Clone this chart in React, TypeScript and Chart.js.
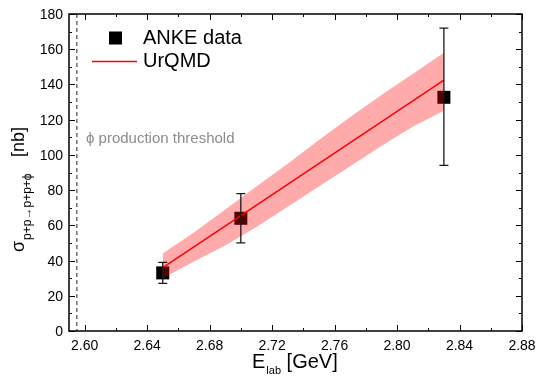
import React, { useEffect, useRef } from "react";
import { Chart, registerables } from "chart.js";

Chart.register(...registerables);

// ANKE data
const ankeX = [2.65, 2.70, 2.83];
const ankeY = [33, 64, 132.7];
const ankeErrLow = [27, 50, 94];
const ankeErrHigh = [39, 78, 172];

// UrQMD curve
const urqmdX = [2.65, 2.70, 2.83];
const urqmdY = [36, 65.5, 142.5];

// UrQMD uncertainty band
const bandX = [2.65, 2.67, 2.69, 2.71, 2.73, 2.75, 2.77, 2.79, 2.81, 2.83];
const bandUpper = [44, 56, 69, 82, 95, 108.5, 121.5, 134, 146, 158];
const bandLower = [30, 39.5, 48.5, 59, 70.5, 82, 93.5, 105, 116, 125];

const thresholdX = 2.595;

const xTickValues = [2.60, 2.64, 2.68, 2.72, 2.76, 2.80, 2.84, 2.88];
const xTickLabels = ["2.60", "2.64", "2.68", "2.72", "2.76", "2.80", "2.84", "2.88"];
const xMinorTicks = [2.62, 2.66, 2.70, 2.74, 2.78, 2.82, 2.86];
const yTickValues = [0, 20, 40, 60, 80, 100, 120, 140, 160, 180];
const yTickLabels = ["0", "20", "40", "60", "80", "100", "120", "140", "160", "180"];
const yMinorTicks = [10, 30, 50, 70, 90, 110, 130, 150, 170];

const FONT = '"Liberation Sans", Arial, sans-serif';

const decorPlugin = {
  id: "decor",
  beforeDatasetsDraw(chart: any) {
    const { ctx, chartArea: a, scales } = chart;
    const x = scales.x;
    ctx.save();
    const tx = x.getPixelForValue(thresholdX);
    ctx.strokeStyle = "#6e6e6e";
    ctx.lineWidth = 1.5;
    ctx.setLineDash([4, 3]);
    ctx.beginPath();
    ctx.moveTo(tx, a.top);
    ctx.lineTo(tx, a.bottom);
    ctx.stroke();
    ctx.setLineDash([]);
    ctx.fillStyle = "#8c8c8c";
    ctx.font = `15px ${FONT}`;
    ctx.textAlign = "left";
    ctx.textBaseline = "alphabetic";
    ctx.fillText("\u03D5 production threshold", 86, 143);
    ctx.restore();
  },
  afterDatasetsDraw(chart: any) {
    const { ctx, chartArea: a, scales } = chart;
    const x = scales.x;
    const y = scales.y;
    ctx.save();

    // error bars
    ctx.strokeStyle = "#1a1a1a";
    ctx.lineWidth = 1.3;
    for (let i = 0; i < ankeX.length; i++) {
      const px = x.getPixelForValue(ankeX[i]);
      const y1 = y.getPixelForValue(ankeErrLow[i]);
      const y2 = y.getPixelForValue(ankeErrHigh[i]);
      ctx.beginPath();
      ctx.moveTo(px, y1);
      ctx.lineTo(px, y2);
      ctx.moveTo(px - 4.5, y1);
      ctx.lineTo(px + 4.5, y1);
      ctx.moveTo(px - 4.5, y2);
      ctx.lineTo(px + 4.5, y2);
      ctx.stroke();
    }

    // frame
    ctx.strokeStyle = "#000";
    ctx.lineWidth = 1.5;
    ctx.strokeRect(a.left, a.top, a.right - a.left, a.bottom - a.top);

    // ticks
    ctx.lineWidth = 1;
    ctx.beginPath();
    const major = 6, minor = 3;
    xTickValues.forEach((v) => {
      const px = Math.round(x.getPixelForValue(v)) + 0.5;
      ctx.moveTo(px, a.bottom); ctx.lineTo(px, a.bottom - major);
      ctx.moveTo(px, a.top); ctx.lineTo(px, a.top + major);
    });
    xMinorTicks.forEach((v) => {
      const px = Math.round(x.getPixelForValue(v)) + 0.5;
      ctx.moveTo(px, a.bottom); ctx.lineTo(px, a.bottom - minor);
      ctx.moveTo(px, a.top); ctx.lineTo(px, a.top + minor);
    });
    yTickValues.forEach((v) => {
      const py = Math.round(y.getPixelForValue(v)) + 0.5;
      ctx.moveTo(a.left, py); ctx.lineTo(a.left + major, py);
      ctx.moveTo(a.right, py); ctx.lineTo(a.right - major, py);
    });
    yMinorTicks.forEach((v) => {
      const py = Math.round(y.getPixelForValue(v)) + 0.5;
      ctx.moveTo(a.left, py); ctx.lineTo(a.left + minor, py);
      ctx.moveTo(a.right, py); ctx.lineTo(a.right - minor, py);
    });
    ctx.stroke();

    // tick labels
    ctx.fillStyle = "#000";
    ctx.font = `14px ${FONT}`;
    ctx.textBaseline = "alphabetic";
    ctx.textAlign = "center";
    xTickValues.forEach((v, i) => {
      ctx.fillText(xTickLabels[i], x.getPixelForValue(v), a.bottom + 19);
    });
    ctx.textAlign = "right";
    yTickValues.forEach((v, i) => {
      ctx.fillText(yTickLabels[i], a.left - 6, y.getPixelForValue(v) + 5);
    });

    // x title
    ctx.textAlign = "left";
    ctx.font = `20px ${FONT}`;
    ctx.fillText("E", 252, 368);
    const eW = ctx.measureText("E").width;
    ctx.font = `11px ${FONT}`;
    ctx.fillText("lab", 252 + eW + 1, 374);
    const labW = ctx.measureText("lab").width;
    ctx.font = `20px ${FONT}`;
    ctx.fillText(" [GeV]", 252 + eW + 1 + labW, 368);

    // y title
    ctx.save();
    ctx.translate(24, 252);
    ctx.rotate(-Math.PI / 2);
    ctx.font = `18px ${FONT}`;
    ctx.fillText("\u03C3", 0, 0);
    const sW = ctx.measureText("\u03C3").width;
    ctx.font = `12px ${FONT}`;
    const sub = "p+p\u2192p+p+\u03D5";
    ctx.fillText(sub, sW + 1, 7);
    ctx.font = `18px ${FONT}`;
    ctx.fillText("[nb]", 95, 0);
    ctx.restore();

    // legend
    ctx.fillStyle = "#000";
    ctx.fillRect(109, 31.5, 13, 13);
    ctx.font = `20px ${FONT}`;
    ctx.fillText("ANKE data", 143, 44);
    ctx.strokeStyle = "#ff0000";
    ctx.lineWidth = 1.5;
    ctx.beginPath();
    ctx.moveTo(92, 61.5);
    ctx.lineTo(137, 61.5);
    ctx.stroke();
    ctx.fillText("UrQMD", 143, 67);

    ctx.restore();
  },
};

export default function App() {
  const ref = useRef<HTMLCanvasElement | null>(null);
  useEffect(() => {
    if (!ref.current) return;
    const chart = new Chart(ref.current, {
      type: "line",
      data: {
        datasets: [
          {
            label: "UrQMD",
            data: urqmdX.map((v, i) => ({ x: v, y: urqmdY[i] })),
            borderColor: "#ff0000",
            borderWidth: 1.5,
            pointRadius: 0,
            fill: false,
            order: 1,
          } as any,
          {
            label: "band upper",
            data: bandX.map((v, i) => ({ x: v, y: bandUpper[i] })),
            borderWidth: 0,
            borderColor: "rgba(0,0,0,0)",
            backgroundColor: "rgba(255,0,0,0.33)",
            pointRadius: 0,
            fill: "+1",
            order: 2,
          },
          {
            label: "band lower",
            data: bandX.map((v, i) => ({ x: v, y: bandLower[i] })),
            borderWidth: 0,
            borderColor: "rgba(0,0,0,0)",
            pointRadius: 0,
            fill: false,
            order: 2,
          },
          {
            label: "ANKE data",
            data: ankeX.map((v, i) => ({ x: v, y: ankeY[i] })),
            showLine: false,
            pointStyle: "rect",
            pointRadius: 9.2,
            pointBackgroundColor: "#000",
            pointBorderColor: "#000",
            pointBorderWidth: 0,
            order: 3,
          },
        ],
      },
      options: {
        animation: false,
        responsive: false,
        layout: { padding: { top: 14, right: 17, left: 0, bottom: 0 } },
        plugins: { legend: { display: false }, tooltip: { enabled: false } },
        scales: {
          x: {
            type: "linear",
            min: 2.59,
            max: 2.88,
            ticks: { display: false },
            grid: { display: false },
            border: { display: false },
            afterFit: (s: any) => { s.height = 45; },
          },
          y: {
            type: "linear",
            min: 0,
            max: 180,
            ticks: { display: false },
            grid: { display: false },
            border: { display: false },
            afterFit: (s: any) => { s.width = 69; },
          },
        },
      },
      plugins: [decorPlugin],
    });
    return () => chart.destroy();
  }, []);
  return (
    <div style={{ position: "absolute", left: 0, top: 0, width: 539, height: 376, background: "#fff" }}>
      <canvas ref={ref} width={539} height={376} />
    </div>
  );
}
